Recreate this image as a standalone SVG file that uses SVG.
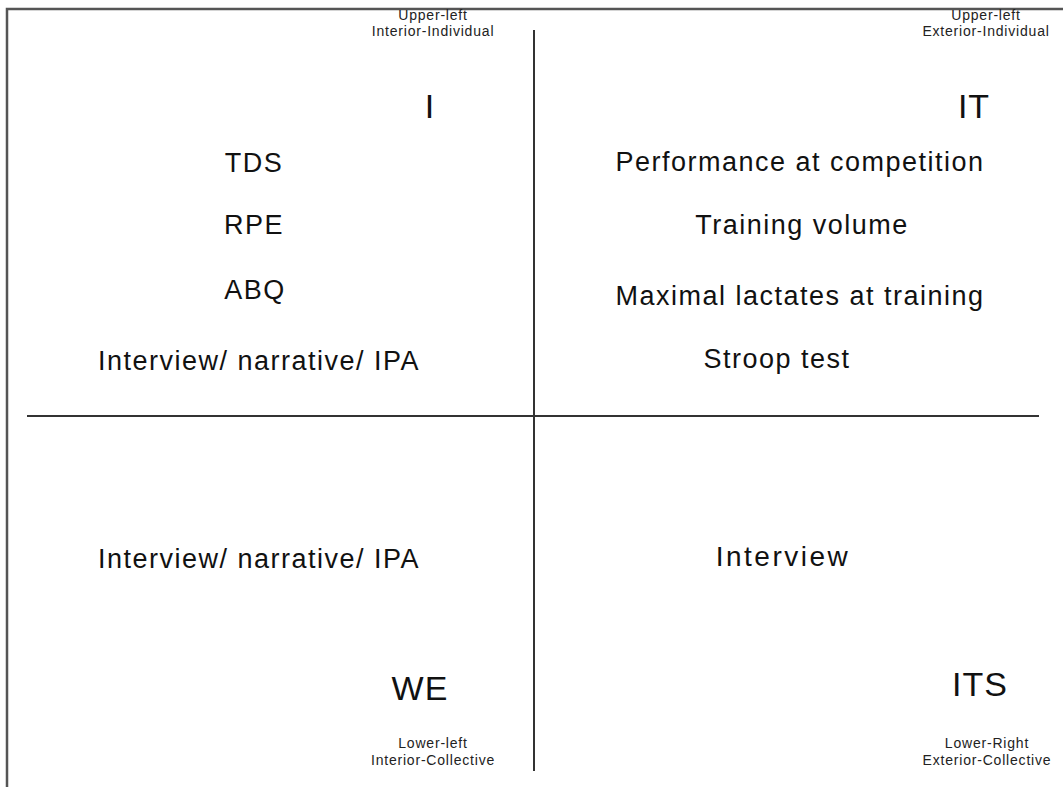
<svg xmlns="http://www.w3.org/2000/svg" width="1063" height="787" viewBox="0 0 1063 787">
<style>
.frame{fill:none;stroke:#555;stroke-width:2.5}
.div{stroke:#333;stroke-width:2;fill:none}
.small{font-family:"Liberation Sans",Arial,sans-serif;font-size:14px;letter-spacing:0.8px;fill:#222;text-anchor:middle}
.big{font-family:"Liberation Sans",Arial,sans-serif;font-size:34px;letter-spacing:1px;fill:#111;text-anchor:middle}
.item{font-family:"Liberation Sans",Arial,sans-serif;font-size:27px;letter-spacing:1.5px;fill:#111;text-anchor:middle}
</style>
<rect width="1063" height="787" fill="#fff"/>
<path class="frame" d="M7,800 L7,9 L1070,9"/>
<g id="connectors">
<line class="div" x1="534" y1="30" x2="534" y2="771"/>
<line class="div" x1="27" y1="416" x2="1039" y2="416"/>
</g>
<g id="q-upper-left">
<text class="small" x="433" y="20">Upper-left</text>
<text class="small" x="433" y="36">Interior-Individual</text>
<text class="big" x="430" y="118">I</text>
<text class="item" x="254" y="172">TDS</text>
<text class="item" x="254" y="234">RPE</text>
<text class="item" x="255" y="299">ABQ</text>
<text class="item" x="259" y="370">Interview/ narrative/ IPA</text>
</g>
<g id="q-upper-right">
<text class="small" x="986" y="20">Upper-left</text>
<text class="small" x="986" y="36">Exterior-Individual</text>
<text class="big" x="974" y="118">IT</text>
<text class="item" x="800" y="171">Performance at competition</text>
<text class="item" x="802" y="234">Training volume</text>
<text class="item" x="800" y="305">Maximal lactates at training</text>
<text class="item" x="777" y="368">Stroop test</text>
</g>
<g id="q-lower-left">
<text class="item" x="259" y="568">Interview/ narrative/ IPA</text>
<text class="big" x="420" y="700">WE</text>
<text class="small" x="433" y="748">Lower-left</text>
<text class="small" x="433" y="765">Interior-Collective</text>
</g>
<g id="q-lower-right">
<text class="item" x="783" y="566" style="font-size:28px;letter-spacing:2.5px">Interview</text>
<text class="big" x="980" y="696">ITS</text>
<text class="small" x="987" y="748">Lower-Right</text>
<text class="small" x="987" y="765">Exterior-Collective</text>
</g>
</svg>
